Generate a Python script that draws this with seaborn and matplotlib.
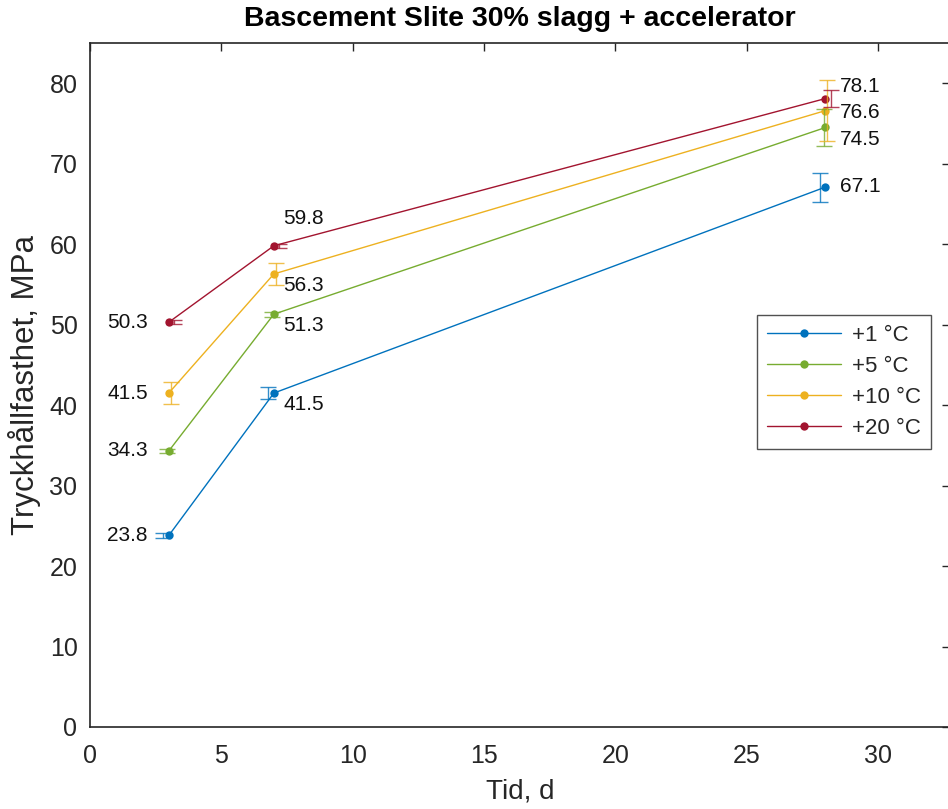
import matplotlib
matplotlib.use("Agg")
import matplotlib.pyplot as plt
import seaborn as sns
import pandas as pd

# ---- data ----
days = [3, 7, 28]
series_names = ["+1 °C", "+5 °C", "+10 °C", "+20 °C"]
vals_1 = [23.8, 41.5, 67.1]
vals_5 = [34.3, 51.3, 74.5]
vals_10 = [41.5, 56.3, 76.6]
vals_20 = [50.3, 59.8, 78.1]
err_1 = [0.3, 0.75, 1.8]
err_5 = [0.3, 0.3, 2.3]
err_10 = [1.4, 1.4, 3.8]
err_20 = [0.25, 0.25, 1.05]
title = "Bascement Slite 30% slagg + accelerator"
xlabel = "Tid, d"
ylabel = "Tryckhållfasthet, MPa"

values = [vals_1, vals_5, vals_10, vals_20]
errors = [err_1, err_5, err_10, err_20]

# ---- style ----
colors = ["#0072BD", "#77AC30", "#EDB120", "#A2142F"]
err_dx = [-0.21, -0.07, 0.07, 0.21]
# label offsets (dx, dy, ha) per series per day
lab_off = [
    [(-0.8, 0.0, "right"), (0.35, -1.4, "left"), (0.55, 0.1, "left")],
    [(-0.8, 0.0, "right"), (0.35, -1.4, "left"), (0.55, -1.5, "left")],
    [(-0.8, 0.0, "right"), (0.35, -1.4, "left"), (0.55, -0.2, "left")],
    [(-0.8, 0.0, "right"), (0.35, 3.4, "left"), (0.55, 1.5, "left")],
]

sns.set_theme(style="white")
plt.rcParams["font.family"] = ["Liberation Sans", "DejaVu Sans"]

rows = []
for name, v in zip(series_names, values):
    for d, y in zip(days, v):
        rows.append({"Tid": d, "Styrka": y, "Serie": name})
df = pd.DataFrame(rows)

fig = plt.figure(figsize=(9.48, 8.09), dpi=100)
ax = fig.add_axes([90 / 948, 1 - 727 / 809, 860 / 948, 684 / 809])

sns.lineplot(data=df, x="Tid", y="Styrka", hue="Serie", palette=colors,
             marker="o", markersize=6, markeredgewidth=0, linewidth=1.0,
             ax=ax, legend=True)

for i, (v, e) in enumerate(zip(values, errors)):
    ax.errorbar([d + err_dx[i] for d in days], v, yerr=e, fmt="none",
                ecolor=colors[i], elinewidth=1.0, capsize=5.5, capthick=1.0,
                alpha=0.8, zorder=3)
    for j, (d, y) in enumerate(zip(days, v)):
        dx, dy, ha = lab_off[i][j]
        ax.text(d + dx, y + dy, f"{y:.1f}", ha=ha, va="center",
                fontsize=15, color="#111111")

ax.set_xlim(0, 32.74)
ax.set_ylim(0, 85)
ax.set_xticks([0, 5, 10, 15, 20, 25, 30])
ax.set_yticks(range(0, 81, 10))
ax.tick_params(direction="in", length=6, width=1, top=True, right=True,
               labelsize=18, colors="#262626")
ax.tick_params(axis="x", pad=12)
ax.tick_params(axis="y", pad=9)
for s in ax.spines.values():
    s.set_color("#262626")
    s.set_linewidth(1.2)
    s.set_visible(True)

ax.set_xlabel(xlabel, fontsize=20, color="#262626", labelpad=8)
ax.set_ylabel(ylabel, fontsize=22.5, color="#262626", labelpad=6)
ax.set_title(title, fontsize=20.5, fontweight="bold", color="black", pad=12)

leg = ax.legend(loc="upper left", bbox_to_anchor=(0.776, 0.602),
                frameon=True, fancybox=False, fontsize=16,
                handlelength=3.3, borderpad=0.45, labelspacing=0.45,
                handletextpad=0.5, borderaxespad=0)
leg.get_frame().set_edgecolor("#262626")
leg.get_frame().set_linewidth(1.0)
leg.set_title(None)

fig.savefig("out.png", dpi=100)
